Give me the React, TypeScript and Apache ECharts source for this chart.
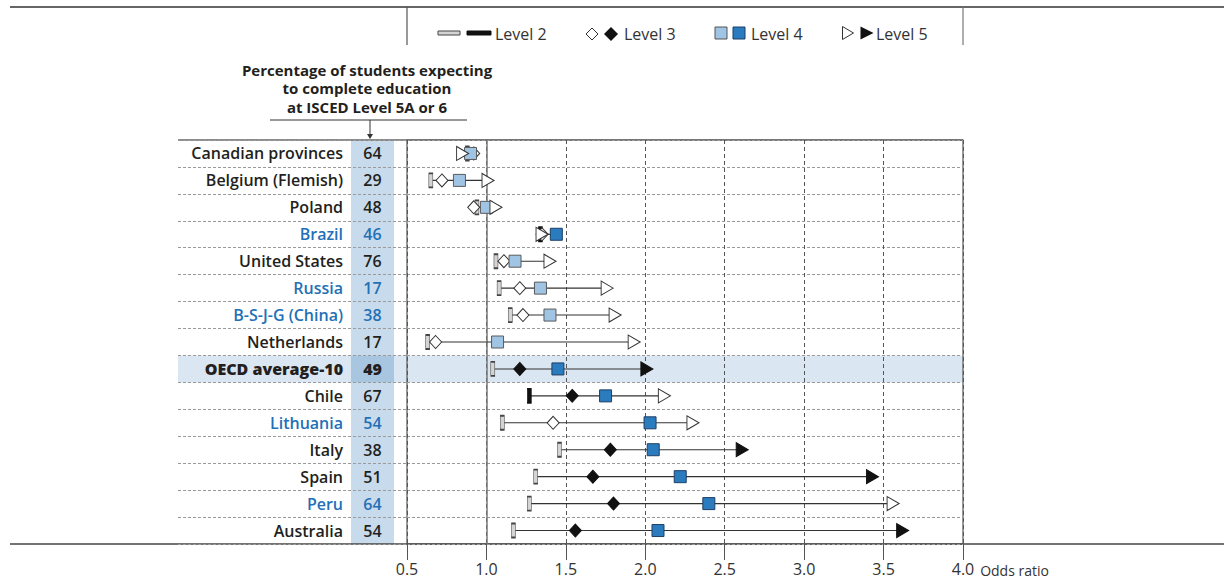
import React, { useEffect, useRef } from 'react';
import * as echarts from 'echarts';

const categories = [
  'Canadian provinces', 'Belgium (Flemish)', 'Poland', 'Brazil', 'United States', 'Russia',
  'B-S-J-G (China)', 'Netherlands', 'OECD average-10', 'Chile', 'Lithuania', 'Italy', 'Spain', 'Peru', 'Australia',
];
const pctExpect = [64, 29, 48, 46, 76, 17, 38, 17, 49, 67, 54, 38, 51, 64, 54];
const isPartner = [false, false, false, true, false, true, true, false, false, false, true, false, false, true, false];
const isAverage = [false, false, false, false, false, false, false, false, true, false, false, false, false, false, false];

const level2 = [0.88, 0.65, 0.94, 1.34, 1.06, 1.08, 1.15, 0.63, 1.04, 1.27, 1.10, 1.46, 1.31, 1.27, 1.17];
const level3 = [0.92, 0.72, 0.92, 1.35, 1.11, 1.21, 1.23, 0.68, 1.21, 1.54, 1.42, 1.78, 1.67, 1.80, 1.56];
const level4 = [0.90, 0.83, 1.00, 1.44, 1.18, 1.34, 1.40, 1.07, 1.45, 1.75, 2.03, 2.05, 2.22, 2.40, 2.08];
const level5 = [0.85, 1.01, 1.06, 1.35, 1.40, 1.76, 1.81, 1.93, 2.01, 2.12, 2.30, 2.61, 3.43, 3.56, 3.62];

const sig2 = [0, 0, 0, 1, 0, 0, 0, 0, 0, 1, 0, 0, 0, 0, 0];
const sig3 = [0, 0, 0, 0, 0, 0, 0, 0, 1, 1, 0, 1, 1, 1, 1];
const sig4 = [0, 0, 0, 1, 0, 0, 0, 0, 1, 1, 1, 1, 1, 1, 1];
const sig5 = [0, 0, 0, 0, 0, 0, 0, 0, 1, 0, 0, 1, 1, 0, 1];

const legendLabels = ['Level 2', 'Level 3', 'Level 4', 'Level 5'];
const headerLines = ['Percentage of students expecting', 'to complete education', 'at ISCED Level 5A or 6'];

const FONT = '"Open Sans", "Noto Sans", sans-serif';
const DARK = '#231f20';
const BLUE = '#2370b6';
const BLACK = '#111111';

export default function App() {
  const ref = useRef<HTMLDivElement>(null);

  useEffect(() => {
    document.body.style.margin = '0';
    const chart = echarts.init(ref.current!, null, { renderer: 'svg' });

    const gridTop = 140;
    const gridBottom = 544;
    const rowH = (gridBottom - gridTop) / categories.length;
    const avgIdx = isAverage.indexOf(true);

    const rangeData = categories.map((_, i) => {
      const vals = [level2[i], level3[i], level4[i], level5[i]];
      return [Math.min(...vals), i, Math.max(...vals)];
    });

    const mk = (arr: number[], sig: number[], open: any, filled: any) =>
      arr.map((v, i) => ({ value: [v, i], itemStyle: { ...(sig[i] ? filled : open), opacity: 1 } }));

    const lbl = (idx: number) => (isAverage[idx] ? 'b' : isPartner[idx] ? 'p' : 'n');
    const baseTxt = { fontFamily: FONT, fontSize: 16, fontWeight: 600 as any, color: DARK };

    const diamond = (cx: number, cy: number, r: number) => [[cx, cy - r], [cx + r, cy], [cx, cy + r], [cx - r, cy]];
    const tri = (cx: number, cy: number, w: number, h: number) => [[cx - w / 2, cy - h / 2], [cx + w / 2, cy], [cx - w / 2, cy + h / 2]];

    const graphic: any[] = [
      { type: 'rect', z: -1, shape: { x: 351, y: gridTop, width: 43, height: gridBottom - gridTop }, style: { fill: '#c8dbed' } },
      { type: 'rect', z: -1, shape: { x: 178, y: gridTop + avgIdx * rowH, width: 963 - 178, height: rowH }, style: { fill: '#dae6f2' } },
      { type: 'rect', z: -1, shape: { x: 351, y: gridTop + avgIdx * rowH, width: 43, height: rowH }, style: { fill: '#a9c6e1' } },
      { type: 'line', shape: { x1: 10, y1: 7, x2: 1224, y2: 7 }, style: { stroke: '#333', lineWidth: 1.5 } },
      { type: 'line', shape: { x1: 407, y1: 7, x2: 407, y2: 45 }, style: { stroke: '#555', lineWidth: 1.2 } },
      { type: 'line', shape: { x1: 963, y1: 7, x2: 963, y2: 45 }, style: { stroke: '#777', lineWidth: 1.2 } },
      { type: 'line', shape: { x1: 178, y1: gridTop, x2: 963, y2: gridTop }, style: { stroke: '#666', lineWidth: 1.5 } },
      { type: 'line', shape: { x1: 10, y1: gridBottom, x2: 1224, y2: gridBottom }, style: { stroke: '#444', lineWidth: 1.5 } },
      ...headerLines.map((t, i) => ({
        type: 'text', x: 367, y: 70 + i * 18.4,
        style: { text: t, fill: DARK, font: `700 15px ${FONT}`, textAlign: 'center', textVerticalAlign: 'middle' },
      })),
      { type: 'line', shape: { x1: 270, y1: 120, x2: 467, y2: 120 }, style: { stroke: '#333', lineWidth: 1 } },
      { type: 'line', shape: { x1: 370, y1: 120, x2: 370, y2: 136 }, style: { stroke: '#333', lineWidth: 1 } },
      { type: 'polygon', shape: { points: [[367, 134], [373, 134], [370, 139]] }, style: { fill: '#333' } },
      { type: 'rect', shape: { x: 438, y: 31, width: 22, height: 4 }, style: { fill: '#d4d4d4', stroke: '#444', lineWidth: 1 } },
      { type: 'rect', shape: { x: 467, y: 31, width: 24, height: 4 }, style: { fill: BLACK, stroke: BLACK, lineWidth: 1 } },
      { type: 'polygon', shape: { points: diamond(592, 34, 6) }, style: { fill: '#fff', stroke: '#333', lineWidth: 1 } },
      { type: 'polygon', shape: { points: diamond(611, 34, 7) }, style: { fill: BLACK } },
      { type: 'rect', shape: { x: 715, y: 27, width: 12, height: 12 }, style: { fill: '#a0c4e4', stroke: '#555', lineWidth: 1 } },
      { type: 'rect', shape: { x: 733, y: 27, width: 12, height: 12 }, style: { fill: '#2b7bbf', stroke: '#1e3f66', lineWidth: 1 } },
      { type: 'polygon', shape: { points: tri(848, 33, 11, 13) }, style: { fill: '#fff', stroke: '#333', lineWidth: 1 } },
      { type: 'polygon', shape: { points: tri(867, 33, 13, 13) }, style: { fill: BLACK } },
      ...legendLabels.map((t, i) => ({
        type: 'text', x: [495, 624, 751, 876][i], y: 34,
        style: { text: t, fill: '#333', font: `16px ${FONT}`, textVerticalAlign: 'middle' },
      })),
    ];

    const option: any = {
      animation: false,
      grid: [
        { left: 407, width: 556, top: gridTop, height: gridBottom - gridTop, show: true, borderColor: '#555', borderWidth: 1.2 },
        { left: 178, width: 229, top: gridTop, height: gridBottom - gridTop },
      ],
      xAxis: [
        {
          type: 'value', gridIndex: 0, min: 0.5, max: 4, interval: 0.5,
          axisLine: { show: false },
          axisTick: { show: true, length: 16, lineStyle: { color: '#555', width: 1 } },
          axisLabel: {
            margin: 17, fontSize: 16, lineHeight: 16, color: '#333', fontFamily: FONT,
            formatter: (v: number) => v.toFixed(1),
          },
          splitLine: { show: true, lineStyle: { type: [4, 3], color: '#555', width: 1 } },
          name: 'Odds ratio', nameLocation: 'end', nameGap: 17,
          nameTextStyle: { fontSize: 14, lineHeight: 14, color: '#333', fontFamily: FONT, verticalAlign: 'top', padding: [19, 0, 0, 0] },
        },
        { type: 'value', gridIndex: 1, min: 0, max: 1, show: false },
      ],
      yAxis: [
        {
          type: 'category', gridIndex: 0, data: categories, inverse: true,
          axisLine: { show: false }, axisTick: { show: false },
          splitLine: { show: true, interval: 0, lineStyle: { type: [3, 2], color: '#9a9a9a', width: 1 } },
          axisLabel: {
            interval: 0, margin: 13,
            formatter: (value: string, index: number) => {
              const k = lbl(index);
              return `{${k}|${value}}{${k}v|${pctExpect[index]}}`;
            },
            rich: {
              n: { ...baseTxt, padding: [0, 8, 0, 0] },
              nv: { ...baseTxt, width: 43, align: 'center' },
              p: { ...baseTxt, color: BLUE, padding: [0, 8, 0, 0] },
              pv: { ...baseTxt, color: BLUE, width: 43, align: 'center' },
              b: { ...baseTxt, fontWeight: 800, padding: [0, 8, 0, 0] },
              bv: { ...baseTxt, fontWeight: 800, width: 43, align: 'center' },
            },
          },
        },
        {
          type: 'category', gridIndex: 1, data: categories, inverse: true,
          axisLine: { show: false }, axisTick: { show: false }, axisLabel: { show: false },
          splitLine: { show: true, interval: 0, lineStyle: { type: [3, 2], color: '#9a9a9a', width: 1 } },
        },
      ],
      series: [
        {
          type: 'custom', xAxisIndex: 0, yAxisIndex: 0, data: rangeData,
          renderItem: (params: any, api: any) => {
            const yi = api.value(1);
            const p1 = api.coord([api.value(0), yi]);
            const p2 = api.coord([api.value(2), yi]);
            return { type: 'line', shape: { x1: p1[0], y1: p1[1], x2: p2[0], y2: p2[1] }, style: { stroke: '#333', lineWidth: 1.1 } };
          },
        },
        {
          type: 'scatter', name: 'Level 2', xAxisIndex: 0, yAxisIndex: 0, symbol: 'rect', symbolSize: [4, 14],
          data: mk(level2, sig2, { color: '#d4d4d4', borderColor: '#444', borderWidth: 1 }, { color: BLACK, borderColor: BLACK, borderWidth: 1 }),
          markLine: {
            silent: true, symbol: 'none', label: { show: false }, z: 1,
            lineStyle: { type: 'solid', color: '#777', width: 1.5 },
            data: [{ xAxis: 1 }],
          },
        },
        {
          type: 'scatter', name: 'Level 3', xAxisIndex: 0, yAxisIndex: 0, symbol: 'diamond', symbolSize: [12, 13],
          data: mk(level3, sig3, { color: '#ffffff', borderColor: '#333', borderWidth: 1 }, { color: BLACK, borderColor: BLACK, borderWidth: 1 }),
        },
        {
          type: 'scatter', name: 'Level 4', xAxisIndex: 0, yAxisIndex: 0, symbol: 'rect', symbolSize: 12,
          data: mk(level4, sig4, { color: '#a0c4e4', borderColor: '#5a5a5a', borderWidth: 1 }, { color: '#2b7bbf', borderColor: '#1e3f66', borderWidth: 1 }),
        },
        {
          type: 'scatter', name: 'Level 5', xAxisIndex: 0, yAxisIndex: 0, symbol: 'triangle', symbolSize: [14, 12], symbolRotate: -90,
          data: mk(level5, sig5, { color: '#ffffff', borderColor: '#333', borderWidth: 1 }, { color: BLACK, borderColor: BLACK, borderWidth: 1 }),
        },
      ],
      graphic,
    };

    chart.setOption(option);
    return () => chart.dispose();
  }, []);

  return <div ref={ref} style={{ width: 1224, height: 579 }} />;
}
